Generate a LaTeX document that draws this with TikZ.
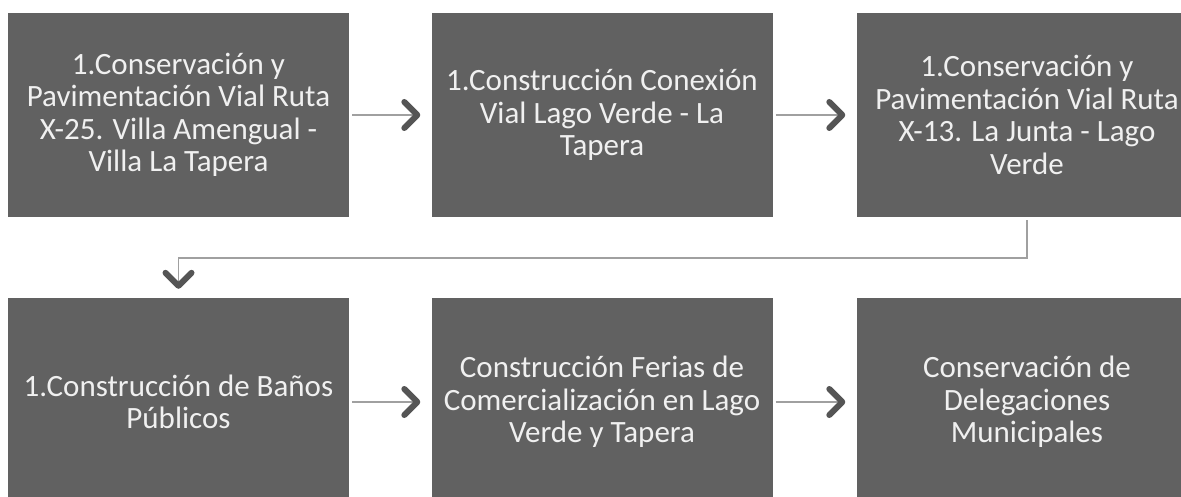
\documentclass[tikz,border=0pt]{standalone}
\usepackage{fontspec}
\setmainfont{Carlito}
\usetikzlibrary{arrows.meta}
\definecolor{boxfill}{HTML}{616161}
\definecolor{boxtext}{HTML}{F0F0F0}
\definecolor{linegray}{HTML}{A0A0A0}
\definecolor{tipgray}{HTML}{555555}
\begin{document}
\begin{tikzpicture}[x=1pt,y=-1pt,
  box/.style={rectangle, fill=boxfill, draw=none, minimum width=341pt, minimum height=204pt,
    inner sep=0pt, align=center, text=boxtext, font=\fontsize{31}{32.5}\selectfont},
  conn/.style={draw=linegray, line width=1.8pt,
    -{Straight Barb[color=tipgray, length=13pt, width=26pt, line width=6pt, line cap=round, line join=round]}}]
\useasboundingbox (0,0) rectangle (1181,497);
\node[box] (b1) at (178.5,115) {1.Conservación y\\Pavimentación Vial Ruta\\X-25. Villa Amengual -\\Villa La Tapera};
\node[box] (b2) at (602,115) {1.Construcción Conexión\\Vial Lago Verde - La\\Tapera};
\node[box] (b3) at (1027,115) {1.Conservación y\\Pavimentación Vial Ruta\\X-13. La Junta - Lago\\Verde};
\node[box, minimum height=208pt] (b4) at (178.5,402) {1.Construcción de Baños\\Públicos};
\node[box, minimum height=208pt] (b5) at (602,402) {Construcción Ferias de\\Comercialización en Lago\\Verde y Tapera};
\node[box, minimum height=208pt] (b6) at (1027,402) {Conservación de\\Delegaciones\\Municipales};
\draw[conn, shorten <=3pt, shorten >=11pt] (b1.east) -- (b2.west);
\draw[conn, shorten <=3pt, shorten >=11pt] (b2.east) -- (b3.west);
\draw[conn, shorten <=3pt, shorten >=11pt] (b4.east) -- (b5.west);
\draw[conn, shorten <=3pt, shorten >=11pt] (b5.east) -- (b6.west);
\coordinate (elb) at (1027,258);
\draw[conn, shorten <=3pt, shorten >=9pt] (b3.south) -- (elb) -| (b4.north);
\end{tikzpicture}
\end{document}
